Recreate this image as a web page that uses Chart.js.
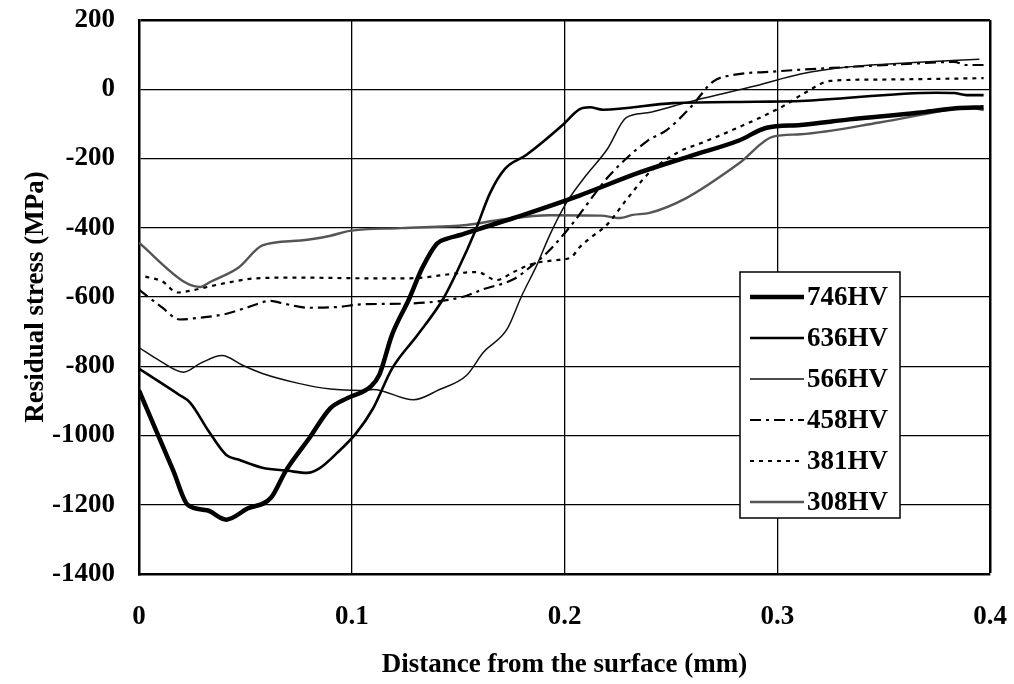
<!DOCTYPE html>
<html>
<head>
<meta charset="utf-8">
<script src="https://cdn.jsdelivr.net/npm/chart.js@4.4.0/dist/chart.umd.min.js"></script>
<style>
  html, body { margin: 0; padding: 0; background: #fff; }
  #wrap { width: 1014px; height: 684px; }
</style>
</head>
<body>
<div id="wrap"><canvas id="stressChart" width="1014" height="684"></canvas></div>
<script>
// depth below the surface (mm) and residual stress (MPa) per hardness
const depth746 = [0, 0.008, 0.016, 0.023, 0.032, 0.041, 0.051, 0.062, 0.069, 0.080, 0.090, 0.098, 0.109, 0.113, 0.119, 0.127, 0.133, 0.140, 0.145, 0.151, 0.160, 0.180, 0.207, 0.235, 0.259, 0.282, 0.295, 0.311, 0.334, 0.366, 0.384, 0.397];
const stress746 = [-870, -985, -1100, -1201, -1216, -1243, -1211, -1180, -1102, -1008, -921, -892, -858, -824, -708, -605, -518, -446, -431, -421, -403, -364, -307, -241, -193, -148, -111, -103, -87, -68, -55, -52];

const depth636 = [0, 0.019, 0.024, 0.033, 0.041, 0.047, 0.058, 0.070, 0.079, 0.085, 0.093, 0.102, 0.110, 0.119, 0.131, 0.143, 0.150, 0.158, 0.165, 0.172, 0.182, 0.199, 0.207, 0.212, 0.218, 0.251, 0.290, 0.311, 0.375, 0.383, 0.389, 0.397];
const stress636 = [-807, -883, -905, -990, -1056, -1070, -1093, -1102, -1108, -1094, -1051, -994, -922, -806, -709, -605, -520, -410, -300, -230, -190, -104, -58, -52, -59, -40, -36, -34, -10, -11, -17, -17];

const depth566 = [0, 0.010, 0.021, 0.029, 0.039, 0.049, 0.058, 0.074, 0.090, 0.104, 0.110, 0.129, 0.141, 0.154, 0.162, 0.173, 0.180, 0.187, 0.193, 0.201, 0.210, 0.220, 0.229, 0.239, 0.251, 0.262, 0.290, 0.311, 0.333, 0.364, 0.395];
const stress566 = [-746, -785, -817, -791, -769, -798, -821, -848, -866, -870, -867, -897, -868, -826, -759, -693, -595, -508, -422, -327, -250, -174, -82, -68, -49, -31, 10, 44, 64, 77, 87];

const depth458 = [0, 0.011, 0.019, 0.027, 0.040, 0.051, 0.062, 0.068, 0.080, 0.093, 0.105, 0.126, 0.152, 0.162, 0.176, 0.185, 0.192, 0.203, 0.221, 0.239, 0.248, 0.259, 0.270, 0.278, 0.298, 0.333, 0.364, 0.383, 0.389, 0.397];
const stress458 = [-579, -631, -665, -661, -650, -630, -611, -619, -631, -629, -621, -619, -600, -577, -549, -508, -471, -394, -250, -149, -118, -54, 23, 40, 51, 64, 74, 79, 70, 70];

const depth381 = [0.003, 0.011, 0.018, 0.024, 0.032, 0.043, 0.055, 0.074, 0.109, 0.126, 0.159, 0.168, 0.176, 0.184, 0.195, 0.203, 0.207, 0.212, 0.220, 0.229, 0.240, 0.254, 0.264, 0.280, 0.303, 0.312, 0.325, 0.348, 0.397];
const stress381 = [-541, -555, -587, -582, -571, -557, -546, -544, -546, -546, -528, -551, -528, -506, -494, -486, -457, -430, -391, -320, -240, -180, -156, -115, -48, -14, 24, 28, 32];

const depth308 = [0, 0.022, 0.029, 0.033, 0.047, 0.058, 0.076, 0.090, 0.099, 0.123, 0.154, 0.170, 0.193, 0.217, 0.226, 0.232, 0.240, 0.257, 0.282, 0.298, 0.311, 0.348, 0.380, 0.389, 0.397];
const stress308 = [-443, -559, -571, -558, -514, -451, -437, -423, -409, -401, -392, -377, -364, -365, -372, -363, -357, -315, -214, -137, -130, -96, -60, -52, -60];

const seriesLabels = ['746HV', '636HV', '566HV', '458HV', '381HV', '308HV'];
const xTicks = [0, 0.1, 0.2, 0.3, 0.4];
const yTicks = [200, 0, -200, -400, -600, -800, -1000, -1200, -1400];

const serif = "'Liberation Serif', 'Times New Roman', serif";

function pts(xs, ys) {
  return xs.map((x, i) => ({ x: x, y: ys[i] }));
}

function series(label, xs, ys, width, color, dash) {
  return {
    label: label,
    data: pts(xs, ys),
    borderColor: color,
    borderWidth: width,
    borderDash: dash,
    pointRadius: 0,
    fill: false,
    cubicInterpolationMode: 'monotone',
    borderCapStyle: 'butt'
  };
}

// boxed legend sitting inside the plot, lower right
const boxLegend = {
  id: 'boxLegend',
  afterDraw(chart) {
    const ctx = chart.ctx;
    const left = 740, top = 272, w = 160, h = 246;
    ctx.save();
    ctx.fillStyle = '#fff';
    ctx.fillRect(left, top, w, h);
    ctx.lineWidth = 1.5;
    ctx.strokeStyle = '#000';
    ctx.strokeRect(left, top, w, h);
    ctx.font = "bold 27px " + serif;
    ctx.textBaseline = 'middle';
    ctx.fillStyle = '#000';
    chart.data.datasets.forEach((ds, i) => {
      const y = top + 25 + i * 41;
      ctx.beginPath();
      ctx.lineWidth = ds.borderWidth;
      ctx.strokeStyle = ds.borderColor;
      ctx.setLineDash(ds.borderDash || []);
      ctx.moveTo(750, y);
      ctx.lineTo(804, y);
      ctx.stroke();
      ctx.setLineDash([]);
      ctx.fillText(ds.label, 807, y + 1);
    });
    ctx.restore();
  }
};

new Chart(document.getElementById('stressChart'), {
  type: 'line',
  data: {
    datasets: [
      series(seriesLabels[0], depth746, stress746, 4.5, '#000', []),
      series(seriesLabels[1], depth636, stress636, 2.6, '#000', []),
      series(seriesLabels[2], depth566, stress566, 1.5, '#111', []),
      series(seriesLabels[3], depth458, stress458, 2.2, '#000', [11, 5, 3, 5]),
      series(seriesLabels[4], depth381, stress381, 2.2, '#000', [4, 5]),
      series(seriesLabels[5], depth308, stress308, 2.4, '#555', [])
    ]
  },
  options: {
    responsive: false,
    animation: false,
    layout: { padding: { top: 20, right: 24, left: 0, bottom: 0 } },
    plugins: { legend: { display: false }, tooltip: { enabled: false } },
    scales: {
      x: {
        type: 'linear',
        min: 0,
        max: 0.4,
        afterBuildTicks(scale) { scale.ticks = xTicks.map(v => ({ value: v })); },
        afterFit(scale) {
          scale.height = 110;
          scale.paddingLeft = 0;
          scale.paddingRight = 0;
        },
        ticks: {
          color: '#000',
          font: { family: serif, size: 27, weight: 'bold' },
          padding: 27,
          maxRotation: 0,
          callback: v => String(v)
        },
        grid: {
          color: '#000',
          lineWidth: c => (c.tick && c.tick.value === 0.4 ? 2.5 : 1.3),
          drawTicks: false
        },
        border: { display: true, color: '#000', width: 2.5 },
        title: {
          display: true,
          text: 'Distance from the surface (mm)',
          color: '#000',
          font: { family: serif, size: 27, weight: 'bold' },
          padding: { top: 0, bottom: 3 }
        }
      },
      y: {
        type: 'linear',
        min: -1400,
        max: 200,
        afterBuildTicks(scale) { scale.ticks = yTicks.map(v => ({ value: v })); },
        afterFit(scale) {
          scale.width = 139;
          scale.paddingTop = 0;
          scale.paddingBottom = 0;
        },
        ticks: {
          color: '#000',
          font: { family: serif, size: 27, weight: 'bold' },
          padding: 24,
          callback: v => String(v)
        },
        grid: {
          color: '#000',
          lineWidth: c => (c.tick && c.tick.value === 200 ? 2.5 : 1.3),
          drawTicks: false
        },
        border: { display: true, color: '#000', width: 2.5 },
        title: {
          display: true,
          text: 'Residual stress (MPa)',
          color: '#000',
          font: { family: serif, size: 27, weight: 'bold' },
          padding: { top: 20, bottom: 0 }
        }
      }
    }
  },
  plugins: [boxLegend]
});
</script>
</body>
</html>
